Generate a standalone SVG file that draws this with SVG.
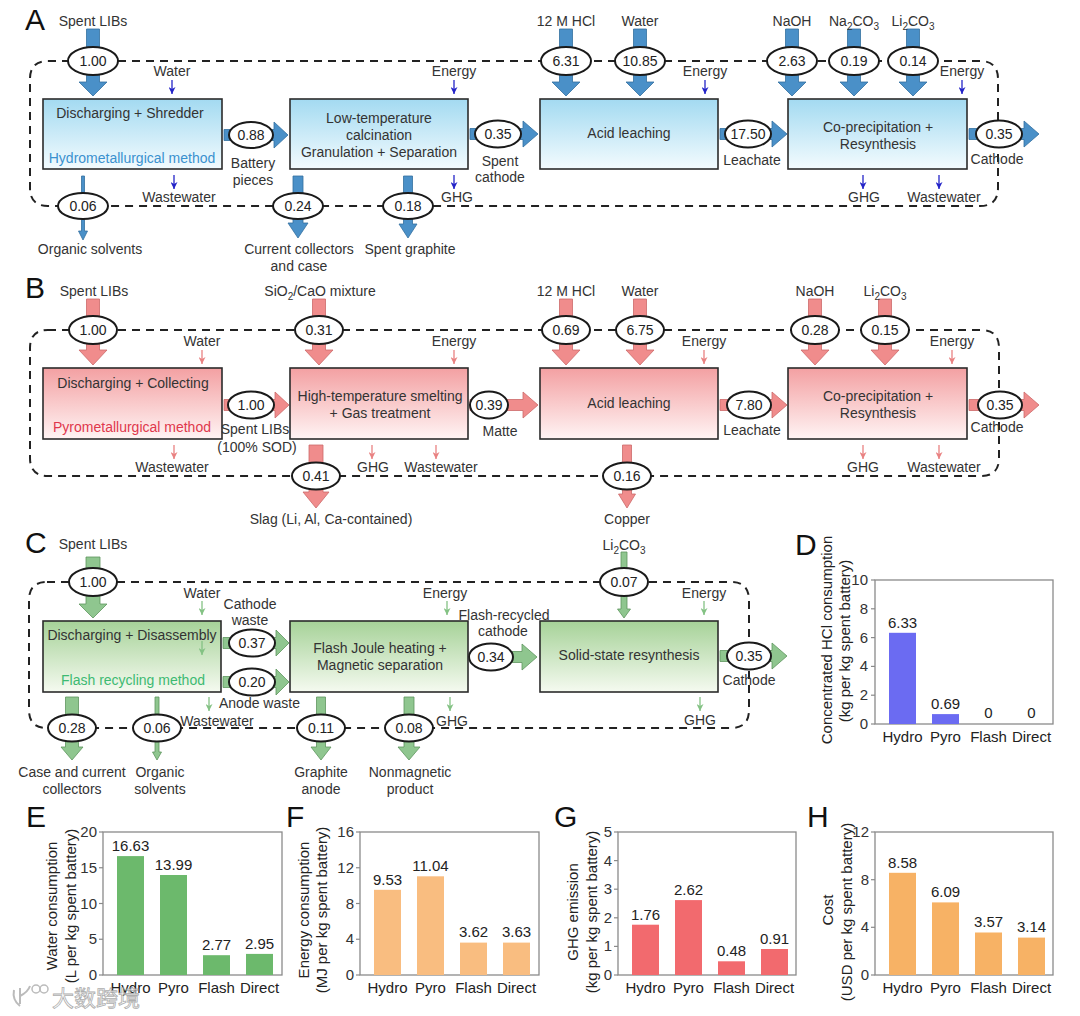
<svg xmlns="http://www.w3.org/2000/svg" width="1080" height="1016" viewBox="0 0 1080 1016">
<defs>
<linearGradient id="gA" x1="0" y1="0" x2="0" y2="1"><stop offset="0" stop-color="#a3daf1"/><stop offset="1" stop-color="#f3fbfe"/></linearGradient>
<linearGradient id="gB" x1="0" y1="0" x2="0" y2="1"><stop offset="0" stop-color="#f3a0a2"/><stop offset="1" stop-color="#fff4f4"/></linearGradient>
<linearGradient id="gC" x1="0" y1="0" x2="0" y2="1"><stop offset="0" stop-color="#a6d298"/><stop offset="1" stop-color="#f5faf0"/></linearGradient>
<marker id="mA" viewBox="0 0 10 10" refX="10" refY="5" markerWidth="7" markerHeight="7" markerUnits="userSpaceOnUse" orient="auto"><path d="M0,0 L10,5 L0,10 L3,5 Z" fill="#2424c8"/></marker>
<marker id="mB" viewBox="0 0 10 10" refX="10" refY="5" markerWidth="7" markerHeight="7" markerUnits="userSpaceOnUse" orient="auto"><path d="M0,0 L10,5 L0,10 L3,5 Z" fill="#e98282"/></marker>
<marker id="mC" viewBox="0 0 10 10" refX="10" refY="5" markerWidth="7" markerHeight="7" markerUnits="userSpaceOnUse" orient="auto"><path d="M0,0 L10,5 L0,10 L3,5 Z" fill="#84c284"/></marker>
</defs>
<style>
text{font-family:"Liberation Sans",Arial,sans-serif;}
.t{font-size:14px;fill:#333;text-anchor:middle;}
.bt{font-size:14px;fill:#333;text-anchor:middle;}
.v{font-size:14px;fill:#222;text-anchor:middle;}
.lab{font-size:30px;fill:#111;}
.loop{fill:none;stroke:#222;stroke-width:2;stroke-dasharray:8 6;}
.el{fill:#fff;stroke:#1a1a1a;stroke-width:2;}
.boxA{fill:url(#gA);stroke:#2b2b2b;stroke-width:1.6;}
.boxB{fill:url(#gB);stroke:#2b2b2b;stroke-width:1.6;}
.boxC{fill:url(#gC);stroke:#2b2b2b;stroke-width:1.6;}
.arA{fill:#4a90c8;stroke:#33709f;stroke-width:0.8;}
.arB{fill:#f08c8c;stroke:#cc6a6a;stroke-width:0.8;}
.arC{fill:#8fc68f;stroke:#5e955e;stroke-width:0.8;}
.sA{stroke:#2424c8;stroke-width:1.3;marker-end:url(#mA);}
.sB{stroke:#e98282;stroke-width:1.3;marker-end:url(#mB);}
.sC{stroke:#84c284;stroke-width:1.3;marker-end:url(#mC);}
.frame{fill:none;stroke:#8a8a8a;stroke-width:1.3;}
.tick{stroke:#8a8a8a;stroke-width:1.2;}
.tk{font-size:15px;fill:#333;text-anchor:end;}
.cat{font-size:15px;fill:#222;text-anchor:middle;}
.val{font-size:15px;fill:#222;text-anchor:middle;}
.ax{font-size:15px;fill:#222;text-anchor:middle;}
</style>
<rect x="0" y="0" width="1080" height="1016" fill="#fff"/>

<!-- ================= PANEL A ================= -->
<g id="panelA">
<text class="lab" x="25" y="30">A</text>
<g id="connectorsA">
<path class="loop" d="M48,61 H980 Q998,61 998,79 V188 Q998,206 980,206 H48 Q30,206 30,188 V79 Q30,61 48,61 Z"/>
<path class="arA" d="M86.5 29 H99.5 V82 H107 L93 96 L79 82 H86.5 Z"/>
<path class="arA" d="M559.5 29 H572.5 V82 H580 L566 96 L552 82 H559.5 Z"/>
<path class="arA" d="M633.5 29 H646.5 V82 H654 L640 96 L626 82 H633.5 Z"/>
<path class="arA" d="M785.5 29 H798.5 V82 H806 L792 96 L778 82 H785.5 Z"/>
<path class="arA" d="M847.5 29 H860.5 V82 H868 L854 96 L840 82 H847.5 Z"/>
<path class="arA" d="M906.5 29 H919.5 V82 H927 L913 96 L899 82 H906.5 Z"/>
<path class="arA" d="M224 129.5 H274 V122 L288 135 L274 148 V140.5 H224 Z"/>
<path class="arA" d="M470 128.5 H523 V121 L538 134 L523 147 V139.5 H470 Z"/>
<path class="arA" d="M720 128.5 H772 V121 L787 134 L772 147 V139.5 H720 Z"/>
<path class="arA" d="M969 128.5 H1024 V121 L1039 134 L1024 147 V139.5 H969 Z"/>
<path class="arA" d="M81.5 176 H84.5 V231 H87.5 L83 240 L78.5 231 H81.5 Z"/>
<path class="arA" d="M293 176 H303 V223 H308 L298 238 L288 223 H293 Z"/>
<path class="arA" d="M403.5 176 H412.5 V224 H417 L408 238 L399 224 H403.5 Z"/>
<line class="sA" x1="172" y1="80" x2="172" y2="94"/>
<line class="sA" x1="454" y1="80" x2="454" y2="94"/>
<line class="sA" x1="705" y1="80" x2="705" y2="94"/>
<line class="sA" x1="962" y1="80" x2="962" y2="94"/>
<line class="sA" x1="174" y1="175" x2="174" y2="189"/>
<line class="sA" x1="454" y1="175" x2="454" y2="189"/>
<line class="sA" x1="863" y1="175" x2="863" y2="189"/>
<line class="sA" x1="939" y1="175" x2="939" y2="189"/>
</g>
<g id="A-flows">
<ellipse class="el" cx="93" cy="61" rx="25" ry="14"/><text class="v" x="93" y="66">1.00</text>
<ellipse class="el" cx="566" cy="61" rx="25" ry="14"/><text class="v" x="566" y="66">6.31</text>
<ellipse class="el" cx="640" cy="61" rx="25" ry="14"/><text class="v" x="640" y="66">10.85</text>
<ellipse class="el" cx="792" cy="61" rx="25" ry="14"/><text class="v" x="792" y="66">2.63</text>
<ellipse class="el" cx="854" cy="61" rx="25" ry="14"/><text class="v" x="854" y="66">0.19</text>
<ellipse class="el" cx="913" cy="61" rx="25" ry="14"/><text class="v" x="913" y="66">0.14</text>
<ellipse class="el" cx="251" cy="135" rx="22" ry="13"/><text class="v" x="251" y="140">0.88</text>
<ellipse class="el" cx="498" cy="134" rx="23" ry="13.5"/><text class="v" x="498" y="139">0.35</text>
<ellipse class="el" cx="748" cy="134" rx="23" ry="13.5"/><text class="v" x="748" y="139">17.50</text>
<ellipse class="el" cx="999" cy="134" rx="23" ry="13.5"/><text class="v" x="999" y="139">0.35</text>
<ellipse class="el" cx="83" cy="206" rx="25" ry="13"/><text class="v" x="83" y="211">0.06</text>
<ellipse class="el" cx="298" cy="206" rx="25" ry="13"/><text class="v" x="298" y="211">0.24</text>
<ellipse class="el" cx="408" cy="206" rx="25" ry="13"/><text class="v" x="408" y="211">0.18</text>
</g>
<g id="A-box1"><rect class="boxA" x="43" y="99" width="179" height="70"/><text class="bt" x="130" y="118">Discharging + Shredder</text><text class="bt" x="132" y="163" style="fill:#3a91cf">Hydrometallurgical method</text></g>
<g id="A-box2"><rect class="boxA" x="290" y="99" width="178" height="70"/><text class="bt" x="379" y="123">Low-temperature</text><text class="bt" x="379" y="140">calcination</text><text class="bt" x="379" y="157">Granulation + Separation</text></g>
<g id="A-box3"><rect class="boxA" x="540" y="99" width="178" height="70"/><text class="bt" x="629" y="138">Acid leaching</text></g>
<g id="A-box4"><rect class="boxA" x="788" y="99" width="179" height="70"/><text class="bt" x="878" y="132">Co-precipitation +</text><text class="bt" x="878" y="149">Resynthesis</text></g>
<g id="A-labels">
<text class="t" x="93" y="26">Spent LIBs</text>
<text class="t" x="566" y="26">12 M HCl</text>
<text class="t" x="640" y="26">Water</text>
<text class="t" x="792" y="26">NaOH</text>
<text class="t" x="854" y="26">Na<tspan dy="4" font-size="10">2</tspan><tspan dy="-4">CO</tspan><tspan dy="4" font-size="10">3</tspan></text>
<text class="t" x="913" y="26">Li<tspan dy="4" font-size="10">2</tspan><tspan dy="-4">CO</tspan><tspan dy="4" font-size="10">3</tspan></text>
<text class="t" x="172" y="76">Water</text>
<text class="t" x="454" y="76">Energy</text>
<text class="t" x="705" y="76">Energy</text>
<text class="t" x="962" y="76">Energy</text>
<text class="t" x="253" y="168">Battery</text><text class="t" x="253" y="185">pieces</text>
<text class="t" x="500" y="166">Spent</text><text class="t" x="500" y="182">cathode</text>
<text class="t" x="752" y="165">Leachate</text>
<text class="t" x="997" y="164">Cathode</text>
<text class="t" x="179" y="202">Wastewater</text>
<text class="t" x="457" y="202">GHG</text>
<text class="t" x="864" y="202">GHG</text>
<text class="t" x="944" y="202">Wastewater</text>
<text class="t" x="90" y="254">Organic solvents</text>
<text class="t" x="299" y="254">Current collectors</text><text class="t" x="299" y="271">and case</text>
<text class="t" x="410" y="254">Spent graphite</text>
</g>
</g>

<!-- ================= PANEL B ================= -->
<g id="panelB">
<text class="lab" x="25" y="298">B</text>
<g id="connectorsB">
<path class="loop" d="M48,330 H981 Q999,330 999,348 V458 Q999,476 981,476 H48 Q30,476 30,458 V348 Q30,330 48,330 Z"/>
<path class="arB" d="M86.5 299 H99.5 V350 H107 L93 365 L79 350 H86.5 Z"/>
<path class="arB" d="M312.5 299 H325.5 V350 H333 L319 365 L305 350 H312.5 Z"/>
<path class="arB" d="M559.5 299 H572.5 V350 H580 L566 365 L552 350 H559.5 Z"/>
<path class="arB" d="M633.5 299 H646.5 V350 H654 L640 365 L626 350 H633.5 Z"/>
<path class="arB" d="M808.5 299 H821.5 V350 H829 L815 365 L801 350 H808.5 Z"/>
<path class="arB" d="M878.5 299 H891.5 V350 H899 L885 365 L871 350 H878.5 Z"/>
<path class="arB" d="M224 399.5 H275 V392 L289 405 L275 418 V410.5 H224 Z"/>
<path class="arB" d="M470 399.5 H523 V392 L538 405 L523 418 V410.5 H470 Z"/>
<path class="arB" d="M720 399.5 H772 V392 L787 405 L772 418 V410.5 H720 Z"/>
<path class="arB" d="M969 399.5 H1024 V392 L1039 405 L1024 418 V410.5 H969 Z"/>
<path class="arB" d="M309 445 H323 V492 H329 L316 508 L303 492 H309 Z"/>
<path class="arB" d="M622.5 445 H631.5 V494 H635.5 L627 508 L618.5 494 H622.5 Z"/>
<line class="sB" x1="202" y1="350" x2="202" y2="364"/>
<line class="sB" x1="454" y1="350" x2="454" y2="364"/>
<line class="sB" x1="704" y1="350" x2="704" y2="364"/>
<line class="sB" x1="952" y1="350" x2="952" y2="364"/>
<line class="sB" x1="174" y1="445" x2="174" y2="459"/>
<line class="sB" x1="372" y1="445" x2="372" y2="459"/>
<line class="sB" x1="436" y1="445" x2="436" y2="459"/>
<line class="sB" x1="863" y1="445" x2="863" y2="459"/>
<line class="sB" x1="939" y1="445" x2="939" y2="459"/>
</g>
<g id="B-flows">
<ellipse class="el" cx="93" cy="330" rx="24" ry="14"/><text class="v" x="93" y="335">1.00</text>
<ellipse class="el" cx="319" cy="330" rx="24" ry="14"/><text class="v" x="319" y="335">0.31</text>
<ellipse class="el" cx="566" cy="330" rx="24" ry="14"/><text class="v" x="566" y="335">0.69</text>
<ellipse class="el" cx="640" cy="330" rx="24" ry="14"/><text class="v" x="640" y="335">6.75</text>
<ellipse class="el" cx="815" cy="330" rx="24" ry="14"/><text class="v" x="815" y="335">0.28</text>
<ellipse class="el" cx="885" cy="330" rx="24" ry="14"/><text class="v" x="885" y="335">0.15</text>
<ellipse class="el" cx="251" cy="405" rx="23" ry="13.5"/><text class="v" x="251" y="410">1.00</text>
<ellipse class="el" cx="489" cy="405" rx="19" ry="13.5"/><text class="v" x="489" y="410">0.39</text>
<ellipse class="el" cx="749" cy="405" rx="22" ry="13.5"/><text class="v" x="749" y="410">7.80</text>
<ellipse class="el" cx="1000" cy="405" rx="22" ry="13.5"/><text class="v" x="1000" y="410">0.35</text>
<ellipse class="el" cx="316" cy="476" rx="24" ry="13.5"/><text class="v" x="316" y="481">0.41</text>
<ellipse class="el" cx="627" cy="476" rx="24" ry="13.5"/><text class="v" x="627" y="481">0.16</text>
</g>
<g id="B-box1"><rect class="boxB" x="43" y="368" width="179" height="71"/><text class="bt" x="133" y="388">Discharging + Collecting</text><text class="bt" x="132" y="432" style="fill:#e0384c">Pyrometallurgical method</text></g>
<g id="B-box2"><rect class="boxB" x="290" y="368" width="178" height="71"/><text class="bt" x="380" y="401">High-temperature smelting</text><text class="bt" x="380" y="418">+ Gas treatment</text></g>
<g id="B-box3"><rect class="boxB" x="540" y="368" width="178" height="71"/><text class="bt" x="629" y="408">Acid leaching</text></g>
<g id="B-box4"><rect class="boxB" x="788" y="368" width="179" height="71"/><text class="bt" x="878" y="401">Co-precipitation +</text><text class="bt" x="878" y="418">Resynthesis</text></g>
<g id="B-labels">
<text class="t" x="94" y="296">Spent LIBs</text>
<text class="t" x="320" y="296">SiO<tspan dy="4" font-size="10">2</tspan><tspan dy="-4">/CaO mixture</tspan></text>
<text class="t" x="566" y="296">12 M HCl</text>
<text class="t" x="640" y="296">Water</text>
<text class="t" x="815" y="296">NaOH</text>
<text class="t" x="885" y="296">Li<tspan dy="4" font-size="10">2</tspan><tspan dy="-4">CO</tspan><tspan dy="4" font-size="10">3</tspan></text>
<text class="t" x="202" y="346">Water</text>
<text class="t" x="454" y="346">Energy</text>
<text class="t" x="704" y="346">Energy</text>
<text class="t" x="952" y="346">Energy</text>
<text class="t" x="255" y="434">Spent LIBs</text><text class="t" x="257" y="452">(100% SOD)</text>
<text class="t" x="500" y="436">Matte</text>
<text class="t" x="752" y="435">Leachate</text>
<text class="t" x="997" y="432">Cathode</text>
<text class="t" x="172" y="472">Wastewater</text>
<text class="t" x="373" y="472">GHG</text>
<text class="t" x="441" y="472">Wastewater</text>
<text class="t" x="863" y="472">GHG</text>
<text class="t" x="944" y="472">Wastewater</text>
<text class="t" x="331" y="524">Slag (Li, Al, Ca-contained)</text>
<text class="t" x="627" y="524">Copper</text>
</g>
</g>

<!-- ================= PANEL C ================= -->
<g id="panelC">
<text class="lab" x="25" y="553">C</text>
<g id="connectorsC">
<path class="loop" d="M47,582 H731 Q749,582 749,600 V710 Q749,728 731,728 H47 Q29,728 29,710 V600 Q29,582 47,582 Z"/>
<path class="arC" d="M86 557 H100 V604 H107 L93 618 L79 604 H86 Z"/>
<path class="arC" d="M621 552 H627 V609 H630.5 L624 618 L617.5 609 H621 Z"/>
<path class="arC" d="M223 637.5 H276 V630 L289 643 L276 656 V648.5 H223 Z"/>
<path class="arC" d="M223 676.5 H276 V669 L289 682 L276 695 V687.5 H223 Z"/>
<path class="arC" d="M471 651.5 H522 V644 L537 657 L522 670 V662.5 H471 Z"/>
<path class="arC" d="M720 650.5 H772 V643 L787 656 L772 669 V661.5 H720 Z"/>
<path class="arC" d="M65.5 697 H78.5 V747 H83 L72 760 L61 747 H65.5 Z"/>
<path class="arC" d="M155 697 H159 V752 H161.5 L157 760 L152.5 752 H155 Z"/>
<path class="arC" d="M316.5 697 H325.5 V747 H331 L321 760 L311 747 H316.5 Z"/>
<path class="arC" d="M404 697 H414 V747 H420 L409 760 L398 747 H404 Z"/>
<line class="sC" x1="202" y1="601" x2="202" y2="615"/>
<line class="sC" x1="447" y1="601" x2="447" y2="615"/>
<line class="sC" x1="704" y1="601" x2="704" y2="615"/>
<line class="sC" x1="209" y1="697" x2="209" y2="711"/>
<line class="sC" x1="450" y1="697" x2="450" y2="711"/>
<line class="sC" x1="700" y1="697" x2="700" y2="711"/>
</g>
<g id="C-flows">
<ellipse class="el" cx="93" cy="582" rx="24" ry="14"/><text class="v" x="93" y="587">1.00</text>
<ellipse class="el" cx="624" cy="582" rx="24" ry="14"/><text class="v" x="624" y="587">0.07</text>
<ellipse class="el" cx="252" cy="643" rx="23" ry="13.5"/><text class="v" x="252" y="648">0.37</text>
<ellipse class="el" cx="252" cy="682" rx="23" ry="13.5"/><text class="v" x="252" y="687">0.20</text>
<ellipse class="el" cx="491" cy="657" rx="22" ry="13.5"/><text class="v" x="491" y="662">0.34</text>
<ellipse class="el" cx="749" cy="656" rx="22" ry="13.5"/><text class="v" x="749" y="661">0.35</text>
<ellipse class="el" cx="72" cy="728" rx="24" ry="13.5"/><text class="v" x="72" y="733">0.28</text>
<ellipse class="el" cx="157" cy="728" rx="24" ry="13.5"/><text class="v" x="157" y="733">0.06</text>
<ellipse class="el" cx="321" cy="728" rx="24" ry="13.5"/><text class="v" x="321" y="733">0.11</text>
<ellipse class="el" cx="409" cy="728" rx="24" ry="13.5"/><text class="v" x="409" y="733">0.08</text>
</g>
<g id="C-box1"><rect class="boxC" x="43" y="621" width="178" height="71"/><text class="bt" x="132" y="640">Discharging + Disassembly</text><text class="bt" x="133" y="685" style="fill:#3dba72">Flash recycling method</text><line class="sC" x1="202" y1="641" x2="202" y2="655"/></g>
<g id="C-box2"><rect class="boxC" x="290" y="621" width="178" height="71"/><text class="bt" x="380" y="653">Flash Joule heating +</text><text class="bt" x="380" y="670">Magnetic separation</text></g>
<g id="C-box3"><rect class="boxC" x="540" y="621" width="178" height="71"/><text class="bt" x="629" y="660">Solid-state resynthesis</text></g>
<g id="C-labels">
<text class="t" x="93" y="549">Spent LIBs</text>
<text class="t" x="624" y="550">Li<tspan dy="4" font-size="10">2</tspan><tspan dy="-4">CO</tspan><tspan dy="4" font-size="10">3</tspan></text>
<text class="t" x="202" y="598">Water</text>
<text class="t" x="445" y="598">Energy</text>
<text class="t" x="704" y="598">Energy</text>
<text class="t" x="250" y="609">Cathode</text><text class="t" x="250" y="625">waste</text>
<text class="t" x="504" y="620">Flash-recycled</text><text class="t" x="503" y="636">cathode</text>
<text class="t" x="749" y="685">Cathode</text>
<text class="t" x="219" y="708" style="text-anchor:start">Anode waste</text>
<text class="t" x="217" y="726">Wastewater</text>
<text class="t" x="452" y="726">GHG</text>
<text class="t" x="700" y="725">GHG</text>
<text class="t" x="72" y="777">Case and current</text><text class="t" x="72" y="794">collectors</text>
<text class="t" x="160" y="777">Organic</text><text class="t" x="160" y="794">solvents</text>
<text class="t" x="321" y="777">Graphite</text><text class="t" x="321" y="794">anode</text>
<text class="t" x="410" y="777">Nonmagnetic</text><text class="t" x="410" y="794">product</text>
</g>
</g>

<!-- ================= PANEL D ================= -->
<g id="panelD">
<text class="lab" x="795" y="555">D</text>
<rect class="frame" x="875" y="580" width="178" height="144"/>
<g class="ticks">
<line class="tick" x1="871" y1="724" x2="875" y2="724"/><line class="tick" x1="871" y1="695.2" x2="875" y2="695.2"/><line class="tick" x1="871" y1="666.4" x2="875" y2="666.4"/><line class="tick" x1="871" y1="637.6" x2="875" y2="637.6"/><line class="tick" x1="871" y1="608.8" x2="875" y2="608.8"/><line class="tick" x1="871" y1="580" x2="875" y2="580"/>
</g>
<text class="tk" x="868" y="729">0</text><text class="tk" x="868" y="700">2</text><text class="tk" x="868" y="671">4</text><text class="tk" x="868" y="643">6</text><text class="tk" x="868" y="614">8</text><text class="tk" x="868" y="585">10</text>
<rect x="889" y="632.8" width="27" height="91.2" fill="#6b6bf2"/>
<rect x="932" y="714.1" width="27" height="9.9" fill="#6b6bf2"/>
<text class="val" x="902.5" y="628">6.33</text><text class="val" x="945.5" y="709">0.69</text><text class="val" x="988.5" y="718">0</text><text class="val" x="1031.5" y="718">0</text>
<text class="cat" x="902.5" y="742">Hydro</text><text class="cat" x="945.5" y="742">Pyro</text><text class="cat" x="988.5" y="742">Flash</text><text class="cat" x="1031.5" y="742">Direct</text>
<text class="ax" transform="translate(832,640) rotate(-90)">Concentrated HCl consumption</text>
<text class="ax" transform="translate(850,641) rotate(-90)">(kg per kg spent battery)</text>
</g>

<!-- ================= PANEL E ================= -->
<g id="panelE">
<text class="lab" x="26" y="827">E</text>
<rect class="frame" x="103" y="832" width="179" height="143"/>
<line class="tick" x1="99" y1="975" x2="103" y2="975"/><line class="tick" x1="99" y1="939.25" x2="103" y2="939.25"/><line class="tick" x1="99" y1="903.5" x2="103" y2="903.5"/><line class="tick" x1="99" y1="867.75" x2="103" y2="867.75"/><line class="tick" x1="99" y1="832" x2="103" y2="832"/>
<text class="tk" x="97" y="980">0</text><text class="tk" x="97" y="944">5</text><text class="tk" x="97" y="909">10</text><text class="tk" x="97" y="873">15</text><text class="tk" x="97" y="837">20</text>
<rect x="117" y="856.1" width="27" height="118.9" fill="#6cb96c"/>
<rect x="160" y="875" width="27" height="100" fill="#6cb96c"/>
<rect x="203" y="955.2" width="27" height="19.8" fill="#6cb96c"/>
<rect x="246" y="953.9" width="27" height="21.1" fill="#6cb96c"/>
<text class="val" x="130.5" y="851">16.63</text><text class="val" x="173.5" y="870">13.99</text><text class="val" x="216.5" y="950">2.77</text><text class="val" x="259.5" y="949">2.95</text>
<text class="cat" x="130.5" y="993">Hydro</text><text class="cat" x="173.5" y="993">Pyro</text><text class="cat" x="216.5" y="993">Flash</text><text class="cat" x="259.5" y="993">Direct</text>
<text class="ax" transform="translate(57,906) rotate(-90)">Water consumption</text>
<text class="ax" transform="translate(76,906) rotate(-90)">(L per kg spent battery)</text>
</g>

<!-- ================= PANEL F ================= -->
<g id="panelF">
<text class="lab" x="286" y="827">F</text>
<rect class="frame" x="360" y="832" width="179" height="143"/>
<line class="tick" x1="356" y1="975" x2="360" y2="975"/><line class="tick" x1="356" y1="939.25" x2="360" y2="939.25"/><line class="tick" x1="356" y1="903.5" x2="360" y2="903.5"/><line class="tick" x1="356" y1="867.75" x2="360" y2="867.75"/><line class="tick" x1="356" y1="832" x2="360" y2="832"/>
<text class="tk" x="354" y="980">0</text><text class="tk" x="354" y="944">4</text><text class="tk" x="354" y="909">8</text><text class="tk" x="354" y="873">12</text><text class="tk" x="354" y="837">16</text>
<rect x="374" y="889.8" width="27" height="85.2" fill="#f9bd80"/>
<rect x="417" y="876.3" width="27" height="98.7" fill="#f9bd80"/>
<rect x="460" y="942.6" width="27" height="32.4" fill="#f9bd80"/>
<rect x="503" y="942.6" width="27" height="32.4" fill="#f9bd80"/>
<text class="val" x="387.5" y="885">9.53</text><text class="val" x="430.5" y="871">11.04</text><text class="val" x="473.5" y="937">3.62</text><text class="val" x="516.5" y="937">3.63</text>
<text class="cat" x="387.5" y="993">Hydro</text><text class="cat" x="430.5" y="993">Pyro</text><text class="cat" x="473.5" y="993">Flash</text><text class="cat" x="516.5" y="993">Direct</text>
<text class="ax" transform="translate(309,910) rotate(-90)">Energy consumption</text>
<text class="ax" transform="translate(327,910) rotate(-90)">(MJ per kg spent battery)</text>
</g>

<!-- ================= PANEL G ================= -->
<g id="panelG">
<text class="lab" x="554" y="827">G</text>
<rect class="frame" x="618" y="832" width="178" height="143"/>
<line class="tick" x1="614" y1="975" x2="618" y2="975"/><line class="tick" x1="614" y1="946.4" x2="618" y2="946.4"/><line class="tick" x1="614" y1="917.8" x2="618" y2="917.8"/><line class="tick" x1="614" y1="889.2" x2="618" y2="889.2"/><line class="tick" x1="614" y1="860.6" x2="618" y2="860.6"/><line class="tick" x1="614" y1="832" x2="618" y2="832"/>
<text class="tk" x="612" y="980">0</text><text class="tk" x="612" y="951">1</text><text class="tk" x="612" y="923">2</text><text class="tk" x="612" y="894">3</text><text class="tk" x="612" y="866">4</text><text class="tk" x="612" y="837">5</text>
<rect x="632" y="924.7" width="27" height="50.3" fill="#f26a6e"/>
<rect x="675" y="900.1" width="27" height="74.9" fill="#f26a6e"/>
<rect x="718" y="961.3" width="27" height="13.7" fill="#f26a6e"/>
<rect x="761" y="949" width="27" height="26" fill="#f26a6e"/>
<text class="val" x="645.5" y="920">1.76</text><text class="val" x="688.5" y="895">2.62</text><text class="val" x="731.5" y="956">0.48</text><text class="val" x="774.5" y="944">0.91</text>
<text class="cat" x="645.5" y="993">Hydro</text><text class="cat" x="688.5" y="993">Pyro</text><text class="cat" x="731.5" y="993">Flash</text><text class="cat" x="774.5" y="993">Direct</text>
<text class="ax" transform="translate(578,912) rotate(-90)">GHG emission</text>
<text class="ax" transform="translate(597,912) rotate(-90)">(kg per kg spent battery)</text>
</g>

<!-- ================= PANEL H ================= -->
<g id="panelH">
<text class="lab" x="807" y="827">H</text>
<rect class="frame" x="875" y="832" width="178" height="143"/>
<line class="tick" x1="871" y1="975" x2="875" y2="975"/><line class="tick" x1="871" y1="927.3" x2="875" y2="927.3"/><line class="tick" x1="871" y1="879.7" x2="875" y2="879.7"/><line class="tick" x1="871" y1="832" x2="875" y2="832"/>
<text class="tk" x="869" y="980">0</text><text class="tk" x="869" y="932">4</text><text class="tk" x="869" y="885">8</text><text class="tk" x="869" y="837">12</text>
<rect x="889" y="872.8" width="27" height="102.2" fill="#f7b265"/>
<rect x="932" y="902.4" width="27" height="72.6" fill="#f7b265"/>
<rect x="975" y="932.5" width="27" height="42.5" fill="#f7b265"/>
<rect x="1018" y="937.6" width="27" height="37.4" fill="#f7b265"/>
<text class="val" x="902.5" y="868">8.58</text><text class="val" x="945.5" y="897">6.09</text><text class="val" x="988.5" y="927">3.57</text><text class="val" x="1031.5" y="932">3.14</text>
<text class="cat" x="902.5" y="993">Hydro</text><text class="cat" x="945.5" y="993">Pyro</text><text class="cat" x="988.5" y="993">Flash</text><text class="cat" x="1031.5" y="993">Direct</text>
<text class="ax" transform="translate(833,910) rotate(-90)">Cost</text>
<text class="ax" transform="translate(852,912) rotate(-90)">(USD per kg spent battery)</text>
</g>

<!-- watermark -->
<g id="watermark" opacity="0.85">
<path d="M14 990 Q12 1000 20 1006 M20 988 L20 1004 M20 996 Q28 992 30 986" fill="none" stroke="#b0b0b0" stroke-width="2"/>
<circle cx="36" cy="989" r="4" fill="none" stroke="#b0b0b0" stroke-width="1.5"/>
<circle cx="44" cy="989" r="4" fill="none" stroke="#b0b0b0" stroke-width="1.5"/>
<text x="52" y="1006" style="font-family:'Noto Sans CJK SC',sans-serif;font-size:22px;fill:#fff;stroke:#a0a0a0;stroke-width:0.8">大数跨境</text>
</g>
</svg>
